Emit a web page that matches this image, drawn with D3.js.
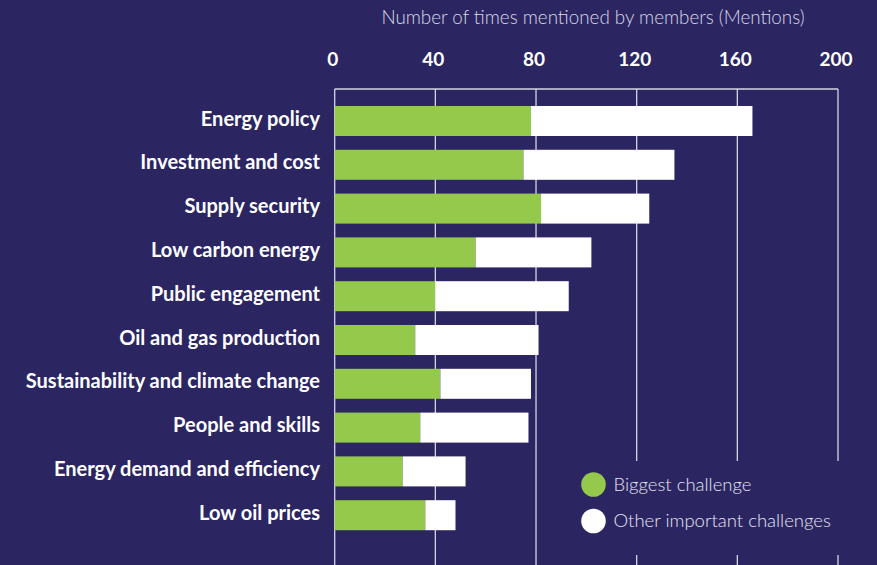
<!DOCTYPE html>
<html><head><meta charset="utf-8">
<script src="https://cdn.jsdelivr.net/npm/d3@7"></script>
<style>
html,body{margin:0;padding:0;background:#2b2662;}
svg{display:block;font-family:Lato,"Open Sans",sans-serif;}
</style></head>
<body>
<svg id="chart" width="877" height="565"></svg>
<script>
const categories = ["Energy policy","Investment and cost","Supply security","Low carbon energy","Public engagement","Oil and gas production","Sustainability and climate change","People and skills","Energy demand and efficiency","Low oil prices"];
const biggest = [78,75,82,56,40,32,42,34,27,36];
const totals = [166,135,125,102,93,81,78,77,52,48];
const other = totals.map((t,i)=>t-biggest[i]);
const ticks = [0,40,80,120,160,200];
const seriesNames = ["Biggest challenge","Other important challenges"];
const colors = ["#94c94b","#ffffff"];
const bg = "#2b2662";

const svg = d3.select("#chart");
svg.append("rect").attr("width",877).attr("height",565).attr("fill",bg);

const x = d3.scaleLinear().domain([0,200]).range([334.7,838]);
const y = d3.scaleBand().domain(categories).range([99.1,537.1]).paddingInner(0.315).paddingOuter(0.1575);

// grid lines
const gridTop = 89;
svg.append("g").selectAll("line").data(ticks).join("line")
  .attr("x1",d=>x(d)).attr("x2",d=>x(d)).attr("y1",gridTop).attr("y2",565)
  .attr("stroke","#d6d4e4").attr("stroke-width",1.3);
svg.append("line").attr("x1",x(0)).attr("x2",x(200)).attr("y1",gridTop).attr("y2",gridTop)
  .attr("stroke","#d6d4e4").attr("stroke-width",1.3);

// top axis
const axis = d3.axisTop(x).tickValues(ticks).tickSize(0).tickPadding(0);
const ga = svg.append("g").attr("transform","translate(-2.5,66)").call(axis);
ga.select(".domain").remove();
ga.selectAll("text").attr("fill","#ffffff").attr("font-size","19px").attr("font-weight","bold")
  .attr("font-family","Lato,'Open Sans',sans-serif").attr("dy","0");

svg.append("text").attr("x",593).attr("y",24).attr("text-anchor","middle")
  .attr("fill","#d9d8e6").attr("font-size","18.8px").attr("font-weight","300")
  .text("Number of times mentioned by members (Mentions)");

// bars
const stack = categories.map((c,i)=>({c, b:biggest[i], o:other[i]}));
const gb = svg.append("g");
gb.selectAll("rect.big").data(stack).join("rect").attr("class","big")
  .attr("x",x(0)).attr("y",d=>y(d.c)).attr("height",y.bandwidth())
  .attr("width",d=>x(d.b)-x(0)).attr("fill",colors[0]);
gb.selectAll("rect.oth").data(stack).join("rect").attr("class","oth")
  .attr("x",d=>x(d.b)).attr("y",d=>y(d.c)).attr("height",y.bandwidth())
  .attr("width",d=>x(d.b+d.o)-x(d.b)).attr("fill",colors[1]);

// category labels
svg.append("g").selectAll("text").data(categories).join("text")
  .attr("x",320).attr("y",d=>y(d)+y.bandwidth()/2 + 4.5)
  .attr("text-anchor","end").attr("fill","#ffffff").attr("font-size","20px").attr("font-weight","bold")
  .text(d=>d);

// legend
const lg = svg.append("g");
lg.append("rect").attr("x",566).attr("y",461).attr("width",311).attr("height",94).attr("fill",bg);
const items = lg.selectAll("g").data(seriesNames).join("g")
  .attr("transform",(d,i)=>`translate(593.5,${484.5+i*36.5})`);
items.append("circle").attr("r",12.3).attr("fill",(d,i)=>colors[i]);
items.append("text").attr("x",20).attr("dy","0.35em").attr("fill","#e6e5ef")
  .attr("font-size","18.5px").attr("font-weight","300").text(d=>d);
</script>
</body></html>
